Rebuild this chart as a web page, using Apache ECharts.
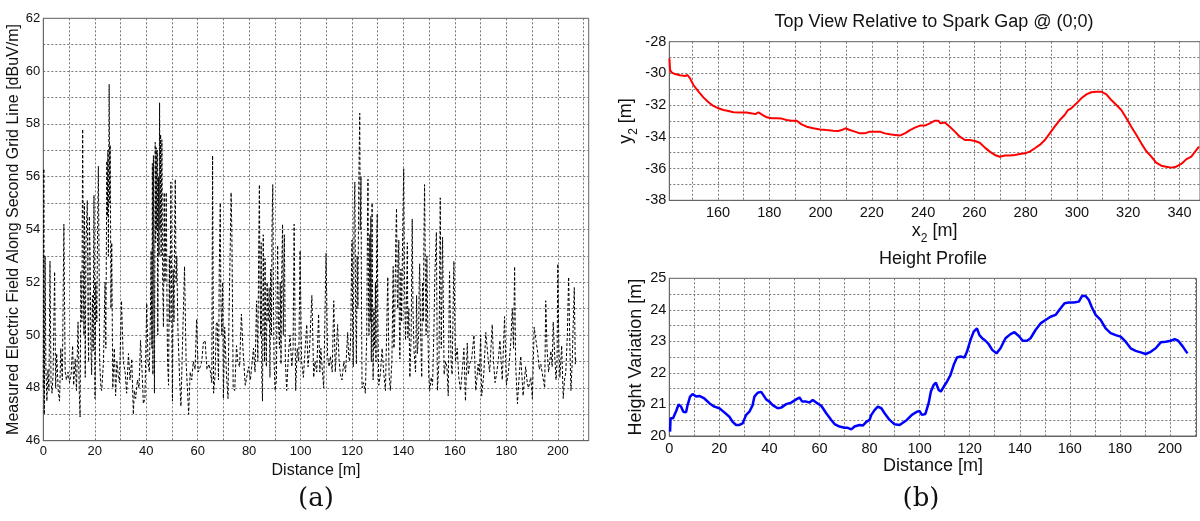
<!DOCTYPE html>
<html>
<head>
<meta charset="utf-8">
<script src="https://cdn.jsdelivr.net/npm/echarts@6/dist/echarts.min.js"></script>
<style>
  html, body { margin: 0; padding: 0; background: #fff; }
  #chart { width: 1200px; height: 521px; }
</style>
</head>
<body>
<div id="chart"></div>
<script>
// (a) Measured electric field along the second grid line: [distance m, level dBuV/m]
const fieldSamples = [
  [0.0,48.0],[0.2,56.3],[0.4,47.0],[0.7,53.0],[1.0,48.8],[1.4,47.5],[1.8,48.7],[2.2,47.9],[2.6,52.8],[3.0,48.2],
  [3.4,47.8],[3.8,48.5],[4.4,52.4],[4.8,48.0],[5.2,49.3],[5.8,47.9],[6.3,47.5],[6.8,49.5],[7.4,48.3],[8.0,54.2],
  [8.5,48.6],[9.0,48.3],[9.6,48.6],[10.2,48.2],[10.8,48.5],[11.4,49.6],[11.8,48.1],[12.4,49.1],[12.9,47.9],[13.5,50.5],
  [14.0,47.8],[14.3,46.9],[14.6,52.4],[15.0,50.5],[15.3,57.8],[15.6,52.0],[15.8,50.0],[16.0,55.0],[16.3,48.4],[16.6,53.5],
  [17.1,55.1],[17.4,50.5],[17.6,49.0],[17.9,54.5],[18.2,53.0],[18.5,49.5],[18.8,48.5],[19.1,51.5],[19.4,49.4],[19.7,55.3],
  [20.1,47.6],[20.4,52.0],[20.8,50.5],[21.1,54.0],[21.4,56.4],[21.7,52.5],[21.9,49.0],[22.4,48.0],[22.7,47.9],[23.4,49.0],
  [24.0,52.0],[24.3,49.5],[24.7,56.6],[24.9,54.5],[25.1,57.0],[25.3,53.0],[25.6,59.5],[25.8,55.0],[26.0,57.2],[26.3,51.0],
  [26.6,53.5],[27.0,48.0],[27.6,49.5],[28.1,47.7],[28.6,49.0],[29.2,48.4],[29.6,48.2],[30.4,51.3],[31.1,49.0],[31.8,48.6],
  [32.4,47.8],[33.1,49.3],[33.7,48.3],[34.4,49.1],[35.0,47.0],[35.4,47.9],[35.9,47.6],[36.6,48.3],[37.2,48.0],[37.8,49.8],
  [38.4,48.6],[38.9,47.4],[39.5,47.6],[40.2,51.2],[40.7,49.0],[41.2,48.6],[41.6,50.5],[41.9,53.2],[42.2,49.5],[42.4,56.5],
  [42.6,48.5],[42.8,56.8],[43.0,52.0],[43.2,47.8],[43.5,57.3],[43.7,53.5],[43.9,57.1],[44.1,54.0],[44.3,57.0],[44.5,50.0],
  [44.8,56.0],[45.0,53.0],[45.2,58.8],[45.4,54.0],[45.6,57.6],[45.8,53.0],[46.1,57.4],[46.4,52.0],[46.7,50.3],[47.0,55.4],
  [47.3,52.0],[47.6,54.0],[47.8,55.4],[48.1,51.0],[48.3,49.0],[48.7,48.1],[49.0,53.0],[49.2,50.5],[49.6,55.8],[49.9,51.0],
  [50.2,47.5],[50.5,52.5],[50.8,50.5],[51.1,54.5],[51.3,55.9],[51.6,52.0],[51.9,53.0],[52.3,50.3],[53.0,48.3],[53.5,47.3],
  [54.2,50.0],[54.9,52.6],[55.5,49.0],[56.0,48.0],[56.5,47.0],[57.1,48.6],[57.7,48.3],[58.3,49.0],[59.0,48.7],[59.6,50.6],
  [60.2,48.6],[61.0,48.8],[61.6,49.0],[62.2,49.7],[62.9,49.8],[63.6,48.7],[64.4,48.9],[65.0,48.6],[65.5,48.2],[65.8,56.8],
  [66.2,47.8],[66.8,48.5],[67.2,50.4],[67.6,50.5],[68.1,48.3],[68.4,52.5],[68.8,55.0],[69.0,51.5],[69.4,50.0],[69.7,52.0],
  [70.0,47.6],[70.5,50.3],[71.2,48.5],[71.8,47.6],[72.2,50.8],[72.6,53.0],[73.0,55.4],[73.3,53.9],[73.6,50.5],[73.8,48.0],
  [74.4,47.9],[75.1,49.6],[75.6,49.0],[76.3,48.8],[77.0,50.8],[77.6,49.5],[78.5,48.1],[79.0,48.1],[79.8,48.8],[80.5,48.3],
  [81.0,48.3],[81.7,49.5],[82.3,48.6],[82.9,51.3],[83.4,49.0],[83.7,53.0],[84.0,55.7],[84.2,52.0],[84.5,50.0],[84.7,53.5],
  [84.9,48.6],[85.2,47.5],[85.5,53.8],[85.7,51.0],[86.0,49.0],[86.2,52.9],[86.4,50.5],[86.7,48.8],[87.0,52.0],[87.4,50.5],
  [87.8,51.8],[88.1,48.4],[88.4,52.5],[88.7,50.0],[88.9,54.0],[89.2,55.7],[89.5,51.0],[89.7,49.0],[90.1,47.9],[90.6,48.3],
  [90.9,51.5],[91.1,53.4],[91.4,50.5],[91.8,49.5],[92.1,52.0],[92.4,48.9],[92.7,52.5],[93.0,54.2],[93.3,50.0],[93.5,52.5],
  [93.7,53.8],[94.1,49.0],[94.6,47.9],[95.3,49.3],[95.9,50.0],[96.6,48.8],[97.1,49.5],[97.5,54.2],[98.1,47.9],[98.7,49.5],
  [99.3,49.0],[99.8,53.2],[100.4,49.0],[101.1,48.4],[101.6,49.2],[102.4,50.4],[102.9,48.8],[103.5,49.5],[104.4,51.5],[105.1,48.4],
  [105.6,49.0],[106.3,48.6],[107.0,50.8],[107.5,48.6],[107.9,49.5],[108.5,48.6],[109.0,48.0],[109.9,53.1],[110.5,49.2],[111.1,48.8],
  [111.6,49.2],[112.3,48.6],[112.9,51.3],[113.5,48.6],[114.4,50.4],[115.0,49.0],[115.5,48.5],[116.1,48.3],[116.8,49.0],[117.5,48.6],
  [118.3,50.1],[118.7,49.2],[119.1,49.0],[119.5,50.0],[119.8,52.5],[120.0,53.6],[120.3,50.0],[120.5,48.8],[120.8,54.5],[121.1,55.8],
  [121.4,51.0],[121.7,48.9],[122.0,53.0],[122.3,51.0],[122.6,55.5],[123.0,58.4],[123.2,54.0],[123.5,56.0],[123.7,51.0],[123.9,48.0],
  [124.5,48.2],[125.2,47.8],[125.7,50.0],[126.0,54.0],[126.2,55.9],[126.4,51.5],[126.6,50.0],[126.9,53.8],[127.1,50.5],[127.3,54.5],
  [127.5,49.0],[127.8,55.0],[128.0,51.0],[128.2,48.3],[128.5,51.0],[128.8,49.5],[129.1,52.0],[129.3,49.0],[129.6,53.5],[129.8,54.6],
  [130.1,50.0],[130.4,48.1],[131.0,48.5],[131.7,49.5],[132.3,48.6],[133.0,47.9],[133.9,52.2],[134.4,48.5],[134.9,47.9],[135.5,49.0],
  [136.0,52.6],[136.3,49.5],[136.6,50.5],[137.0,53.5],[137.3,54.8],[137.6,51.5],[137.8,51.0],[138.0,53.0],[138.2,53.6],[138.4,50.5],
  [138.6,49.1],[139.0,52.5],[139.3,50.5],[139.7,54.0],[140.1,56.3],[140.4,52.0],[140.8,49.8],[141.2,51.5],[141.5,53.5],[141.7,49.9],
  [142.1,51.0],[142.5,48.4],[143.0,50.0],[143.2,52.5],[143.4,54.4],[143.7,51.0],[144.1,49.4],[144.7,48.6],[145.1,51.5],[145.4,49.3],
  [145.9,50.0],[146.1,52.0],[146.3,52.7],[146.7,50.0],[147.1,48.4],[147.4,52.0],[147.7,50.5],[148.0,54.0],[148.2,55.7],[148.5,52.5],
  [148.8,50.0],[149.1,53.0],[149.3,51.3],[149.8,48.5],[150.2,47.9],[150.8,48.4],[151.3,48.1],[151.8,50.0],[152.2,52.3],[152.8,53.9],
  [153.2,47.9],[153.8,49.0],[154.3,55.2],[154.7,49.5],[155.2,53.7],[155.8,48.5],[156.4,49.0],[156.9,48.8],[157.4,47.7],[157.9,52.4],
  [158.5,49.0],[158.9,48.5],[159.6,52.8],[160.2,49.0],[160.9,49.5],[161.5,48.4],[162.2,47.9],[162.8,48.6],[163.5,49.5],[164.1,47.5],
  [164.8,49.7],[165.2,48.5],[165.7,48.9],[166.5,49.1],[167.4,50.0],[168.1,47.9],[168.6,48.4],[169.0,48.9],[169.5,48.5],[170.0,50.0],
  [170.4,47.7],[171.2,48.5],[172.0,50.1],[172.6,50.1],[173.0,49.0],[173.5,48.6],[174.5,50.4],[175.0,49.0],[175.6,48.2],[176.3,48.6],
  [176.9,49.1],[177.5,49.8],[178.4,48.3],[179.3,50.7],[180.0,48.1],[180.8,48.6],[181.7,49.7],[182.3,51.0],[182.8,49.5],[183.2,52.6],
  [183.6,48.9],[184.3,47.4],[185.0,48.5],[185.6,49.2],[186.5,47.7],[187.0,48.3],[187.5,48.8],[188.1,48.2],[188.6,48.0],[189.5,48.4],
  [190.1,47.6],[190.8,50.3],[191.5,49.8],[192.1,49.4],[192.8,48.7],[193.4,48.9],[194.2,48.4],[194.9,48.0],[195.3,51.3],[195.8,49.5],
  [196.4,48.6],[197.3,49.4],[197.8,48.8],[198.2,50.5],[198.8,49.2],[199.3,48.3],[199.7,49.0],[200.0,52.7],[200.4,49.5],[200.8,48.4],
  [201.5,49.6],[202.1,47.6],[202.6,48.3],[203.1,48.6],[203.7,50.0],[204.2,52.2],[204.7,49.5],[205.1,47.9],[205.6,49.0],[206.0,50.5],
  [206.4,51.8],[206.8,48.9],[207.0,49.2]
];

// (b, top) Path seen from above, relative to the spark gap: [x2 m, y2 m]
const trackSamples = [
  [141.05,-29.05],[141.3,-29.79],[142.0,-29.95],[143.3,-30.04],[145.2,-30.12],[147.2,-30.16],[148.1,-30.10],[149.1,-30.31],
  [150.4,-30.73],[152.4,-31.15],[154.3,-31.51],[156.3,-31.82],[158.2,-32.05],[160.2,-32.20],[162.1,-32.31],[164.1,-32.37],
  [166.0,-32.45],[168.6,-32.47],[171.2,-32.47],[173.2,-32.52],[174.5,-32.56],[175.8,-32.45],[177.0,-32.58],[179.0,-32.77],
  [180.9,-32.83],[182.9,-32.83],[184.8,-32.85],[186.8,-32.94],[188.7,-32.98],[190.7,-32.98],[192.6,-33.21],[194.6,-33.36],
  [197.2,-33.46],[199.8,-33.53],[202.3,-33.57],[204.9,-33.61],[206.9,-33.63],[208.2,-33.57],[209.7,-33.46],[211.4,-33.57],
  [213.4,-33.67],[215.3,-33.78],[217.3,-33.78],[219.2,-33.67],[221.2,-33.67],[223.1,-33.67],[225.1,-33.78],[227.0,-33.84],
  [229.0,-33.88],[230.9,-33.92],[232.9,-33.78],[234.9,-33.57],[236.8,-33.42],[238.8,-33.29],[240.7,-33.29],[242.6,-33.15],
  [244.6,-32.98],[245.9,-32.98],[246.8,-33.15],[248.5,-33.10],[250.4,-33.36],[252.4,-33.67],[254.3,-33.99],[256.3,-34.20],
  [258.2,-34.20],[260.2,-34.26],[262.1,-34.37],[264.1,-34.68],[266.0,-34.93],[268.0,-35.14],[269.9,-35.25],[271.9,-35.18],
  [273.8,-35.18],[275.8,-35.14],[277.7,-35.08],[279.7,-35.04],[281.6,-34.93],[283.6,-34.72],[285.5,-34.51],[287.5,-34.20],
  [289.4,-33.78],[291.3,-33.36],[293.3,-32.94],[295.2,-32.62],[296.5,-32.31],[297.8,-32.20],[299.8,-31.89],[301.7,-31.57],
  [303.7,-31.32],[305.6,-31.19],[307.6,-31.15],[309.5,-31.15],[311.5,-31.32],[313.4,-31.68],[315.4,-31.99],[317.3,-32.31],
  [319.3,-32.83],[321.2,-33.36],[323.2,-33.88],[325.1,-34.41],[327.0,-34.89],[329.0,-35.25],[330.9,-35.63],[332.9,-35.82],
  [334.8,-35.88],[336.8,-35.94],[338.7,-35.88],[340.7,-35.71],[342.6,-35.42],[344.6,-35.25],[346.1,-34.93],[347.6,-34.62]
];

// (b, bottom) Ground height along the walked distance: [distance m, height m]
const heightSamples = [
  [0.3,20.14],[0.5,20.56],[1.5,20.56],[2.1,20.50],[2.8,20.80],[3.7,21.00],[4.7,20.93],[5.6,20.77],[6.7,20.75],[7.3,20.98],
  [8.3,21.25],[9.3,21.33],[10.7,21.25],[12.0,21.27],[14.0,21.19],[16.0,21.04],[18.0,20.93],[20.0,20.88],[22.0,20.75],[24.0,20.61],
  [25.3,20.45],[26.7,20.35],[28.0,20.35],[29.3,20.40],[30.7,20.67],[32.0,20.77],[33.3,20.98],[34.0,21.25],[35.3,21.37],[36.7,21.40],
  [37.3,21.35],[38.7,21.16],[40.0,21.09],[41.3,20.98],[43.3,20.88],[44.7,20.90],[46.7,21.01],[48.7,21.06],[50.7,21.16],[52.0,21.22],
  [53.1,21.09],[54.7,21.09],[56.0,21.06],[57.3,21.14],[58.7,21.06],[60.7,20.96],[62.7,20.72],[64.7,20.51],[66.0,20.38],[68.0,20.30],
  [70.0,20.26],[71.3,20.26],[72.7,20.21],[74.0,20.30],[76.0,20.35],[77.3,20.33],[78.7,20.45],[80.0,20.51],[80.7,20.67],[82.0,20.82],
  [83.3,20.93],[84.7,20.88],[86.0,20.72],[88.0,20.51],[90.0,20.37],[92.0,20.35],[94.9,20.51],[96.9,20.67],[98.9,20.77],[100.0,20.79],
  [100.9,20.67],[102.3,20.70],[103.6,21.04],[104.5,21.41],[105.6,21.62],[106.5,21.69],[107.6,21.46],[108.5,21.41],[109.6,21.56],[110.9,21.72],
  [112.3,21.93],[113.6,22.25],[114.9,22.49],[116.3,22.52],[117.9,22.49],[118.9,22.67],[120.3,23.04],[121.6,23.31],[122.9,23.41],[123.9,23.20],
  [125.0,23.10],[126.3,23.02],[127.6,22.91],[129.0,22.73],[130.7,22.62],[132.3,22.78],[134.3,23.10],[136.3,23.23],[137.9,23.29],[139.6,23.17],
  [141.2,23.02],[142.9,23.02],[144.3,23.10],[146.3,23.36],[148.3,23.57],[150.3,23.68],[152.3,23.78],[154.3,23.84],[156.0,24.02],[157.9,24.21],
  [159.6,24.23],[161.6,24.23],[163.6,24.26],[164.9,24.44],[166.3,24.44],[167.6,24.31],[168.7,24.10],[170.3,23.84],[172.3,23.68],[174.3,23.41],
  [176.3,23.26],[178.3,23.20],[180.3,23.15],[182.3,22.99],[184.3,22.78],[186.3,22.70],[188.3,22.65],[190.3,22.60],[192.3,22.67],[194.3,22.78],
  [196.3,22.97],[198.3,22.99],[200.3,23.02],[201.9,23.07],[203.3,23.02],[205.0,22.85],[207.0,22.62]
];

// Grid lines and tick labels
const fieldGridX = [0,10,20,30,40,50,60,70,80,90,100,110,120,130,140,150,160,170,180,190,200,210];
const fieldLabelX = [0,20,40,60,80,100,120,140,160,180,200];
const fieldGridY = [46,47,48,49,50,51,52,53,54,55,56,57,58,59,60,61,62];
const fieldLabelY = [46,48,50,52,54,56,58,60,62];
const trackGridX = [150,160,170,180,190,200,210,220,230,240,250,260,270,280,290,300,310,320,330,340];
const trackLabelX = [160,180,200,220,240,260,280,300,320,340];
const trackGridY = [-38,-37,-36,-35,-34,-33,-32,-31,-30,-29,-28];
const trackLabelY = [-38,-36,-34,-32,-30,-28];
const heightGridX = [0,10,20,30,40,50,60,70,80,90,100,110,120,130,140,150,160,170,180,190,200,210];
const heightLabelX = [0,20,40,60,80,100,120,140,160,180,200];
const heightGridY = [20,20.5,21,21.5,22,22.5,23,23.5,24,24.5,25];
const heightLabelY = [20,21,22,23,24,25];

const FONT = '"Liberation Sans", Arial, Helvetica, sans-serif';
const FRAME = '#666666';
const GRID_LINE = { show: true, lineStyle: { color: '#777777', width: 1, type: [2, 2] } };

function valueAxis(opts) {
  return Object.assign({
    type: 'value',
    axisLine: { show: true, onZero: false, lineStyle: { color: FRAME, width: 1 } },
    axisTick: { show: false, customValues: opts.grid },
    axisLabel: { customValues: opts.labels, color: '#111', fontFamily: FONT, fontSize: opts.fontSize, margin: opts.margin },
    splitLine: GRID_LINE,
    nameTextStyle: { color: '#111', fontFamily: FONT, fontSize: opts.nameSize }
  }, opts.extra);
}

// Rich-text styles for names with a subscript index (x2, y2)
const subRich = (size) => ({
  m: { fontFamily: FONT, fontSize: size, color: '#111', lineHeight: 26 },
  s: { fontFamily: FONT, fontSize: Math.round(size * 0.66), color: '#111', lineHeight: 12, verticalAlign: 'bottom' }
});

const chart = echarts.init(document.getElementById('chart'), null, { renderer: 'canvas' });

chart.setOption({
  animation: false,
  backgroundColor: '#ffffff',
  grid: [
    { left: 43.3, top: 18.3, width: 545.4, height: 422.4, show: true, borderColor: FRAME, borderWidth: 1, backgroundColor: 'transparent' },
    { left: 669.3, top: 41.7, width: 530.7, height: 158.6, show: true, borderColor: FRAME, borderWidth: 1, backgroundColor: 'transparent' },
    { left: 669.3, top: 278.3, width: 527.2, height: 157.7, show: true, borderColor: FRAME, borderWidth: 1, backgroundColor: 'transparent' }
  ],
  xAxis: [
    valueAxis({ grid: fieldGridX, labels: fieldLabelX, fontSize: 13, margin: 4, nameSize: 16, extra: {
      gridIndex: 0, min: 0, max: 212,
      name: 'Distance [m]', nameLocation: 'middle', nameGap: 17
    } }),
    valueAxis({ grid: trackGridX, labels: trackLabelX, fontSize: 14.5, margin: 5, nameSize: 18, extra: {
      gridIndex: 1, min: 141, max: 348,
      name: '{m|x}{s|2}{m| [m]}', nameLocation: 'middle', nameGap: 18,
      nameTextStyle: { rich: subRich(18) }
    } }),
    valueAxis({ grid: heightGridX, labels: heightLabelX, fontSize: 14.5, margin: 5, nameSize: 18, extra: {
      gridIndex: 2, min: 0, max: 210.6,
      name: 'Distance [m]', nameLocation: 'middle', nameGap: 20
    } })
  ],
  yAxis: [
    valueAxis({ grid: fieldGridY, labels: fieldLabelY, fontSize: 13, margin: 3, nameSize: 16, extra: {
      gridIndex: 0, min: 46, max: 62,
      name: 'Measured Electric Field Along Second Grid Line [dBuV/m]', nameLocation: 'middle', nameGap: 20
    } }),
    valueAxis({ grid: trackGridY, labels: trackLabelY, fontSize: 14.5, margin: 3, nameSize: 18, extra: {
      gridIndex: 1, min: -38, max: -28,
      name: '{m|y}{s|2}{m| [m]}', nameLocation: 'middle', nameGap: 30,
      nameTextStyle: { rich: subRich(18) }
    } }),
    valueAxis({ grid: heightGridY, labels: heightLabelY, fontSize: 14.5, margin: 3, nameSize: 18, extra: {
      gridIndex: 2, min: 20, max: 25,
      name: 'Height Variation [m]', nameLocation: 'middle', nameGap: 24
    } })
  ],
  series: [
    {
      type: 'line', xAxisIndex: 0, yAxisIndex: 0, data: fieldSamples,
      showSymbol: false, symbol: 'none', clip: true,
      lineStyle: { color: '#000000', width: 1, type: [3, 2] }
    },
    {
      type: 'line', xAxisIndex: 1, yAxisIndex: 1, data: trackSamples,
      showSymbol: false, symbol: 'none', clip: true,
      lineStyle: { color: '#ff0000', width: 2 }
    },
    {
      type: 'line', xAxisIndex: 2, yAxisIndex: 2, data: heightSamples,
      showSymbol: false, symbol: 'none', clip: true,
      lineStyle: { color: '#0000ff', width: 2.5 }
    }
  ],
  graphic: [
    { type: 'text', x: 934, y: 22, style: { text: 'Top View Relative to Spark Gap @ (0;0)', fill: '#111', font: '18px ' + FONT, textAlign: 'center', textVerticalAlign: 'middle' } },
    { type: 'text', x: 933, y: 259, style: { text: 'Height Profile', fill: '#111', font: '18px ' + FONT, textAlign: 'center', textVerticalAlign: 'middle' } },
    { type: 'text', x: 316, y: 499, style: { text: '(a)', fill: '#111', font: '26px "DejaVu Serif", serif', textAlign: 'center', textVerticalAlign: 'middle' } },
    { type: 'text', x: 921, y: 499, style: { text: '(b)', fill: '#111', font: '26px "DejaVu Serif", serif', textAlign: 'center', textVerticalAlign: 'middle' } }
  ]
});
</script>
</body>
</html>
